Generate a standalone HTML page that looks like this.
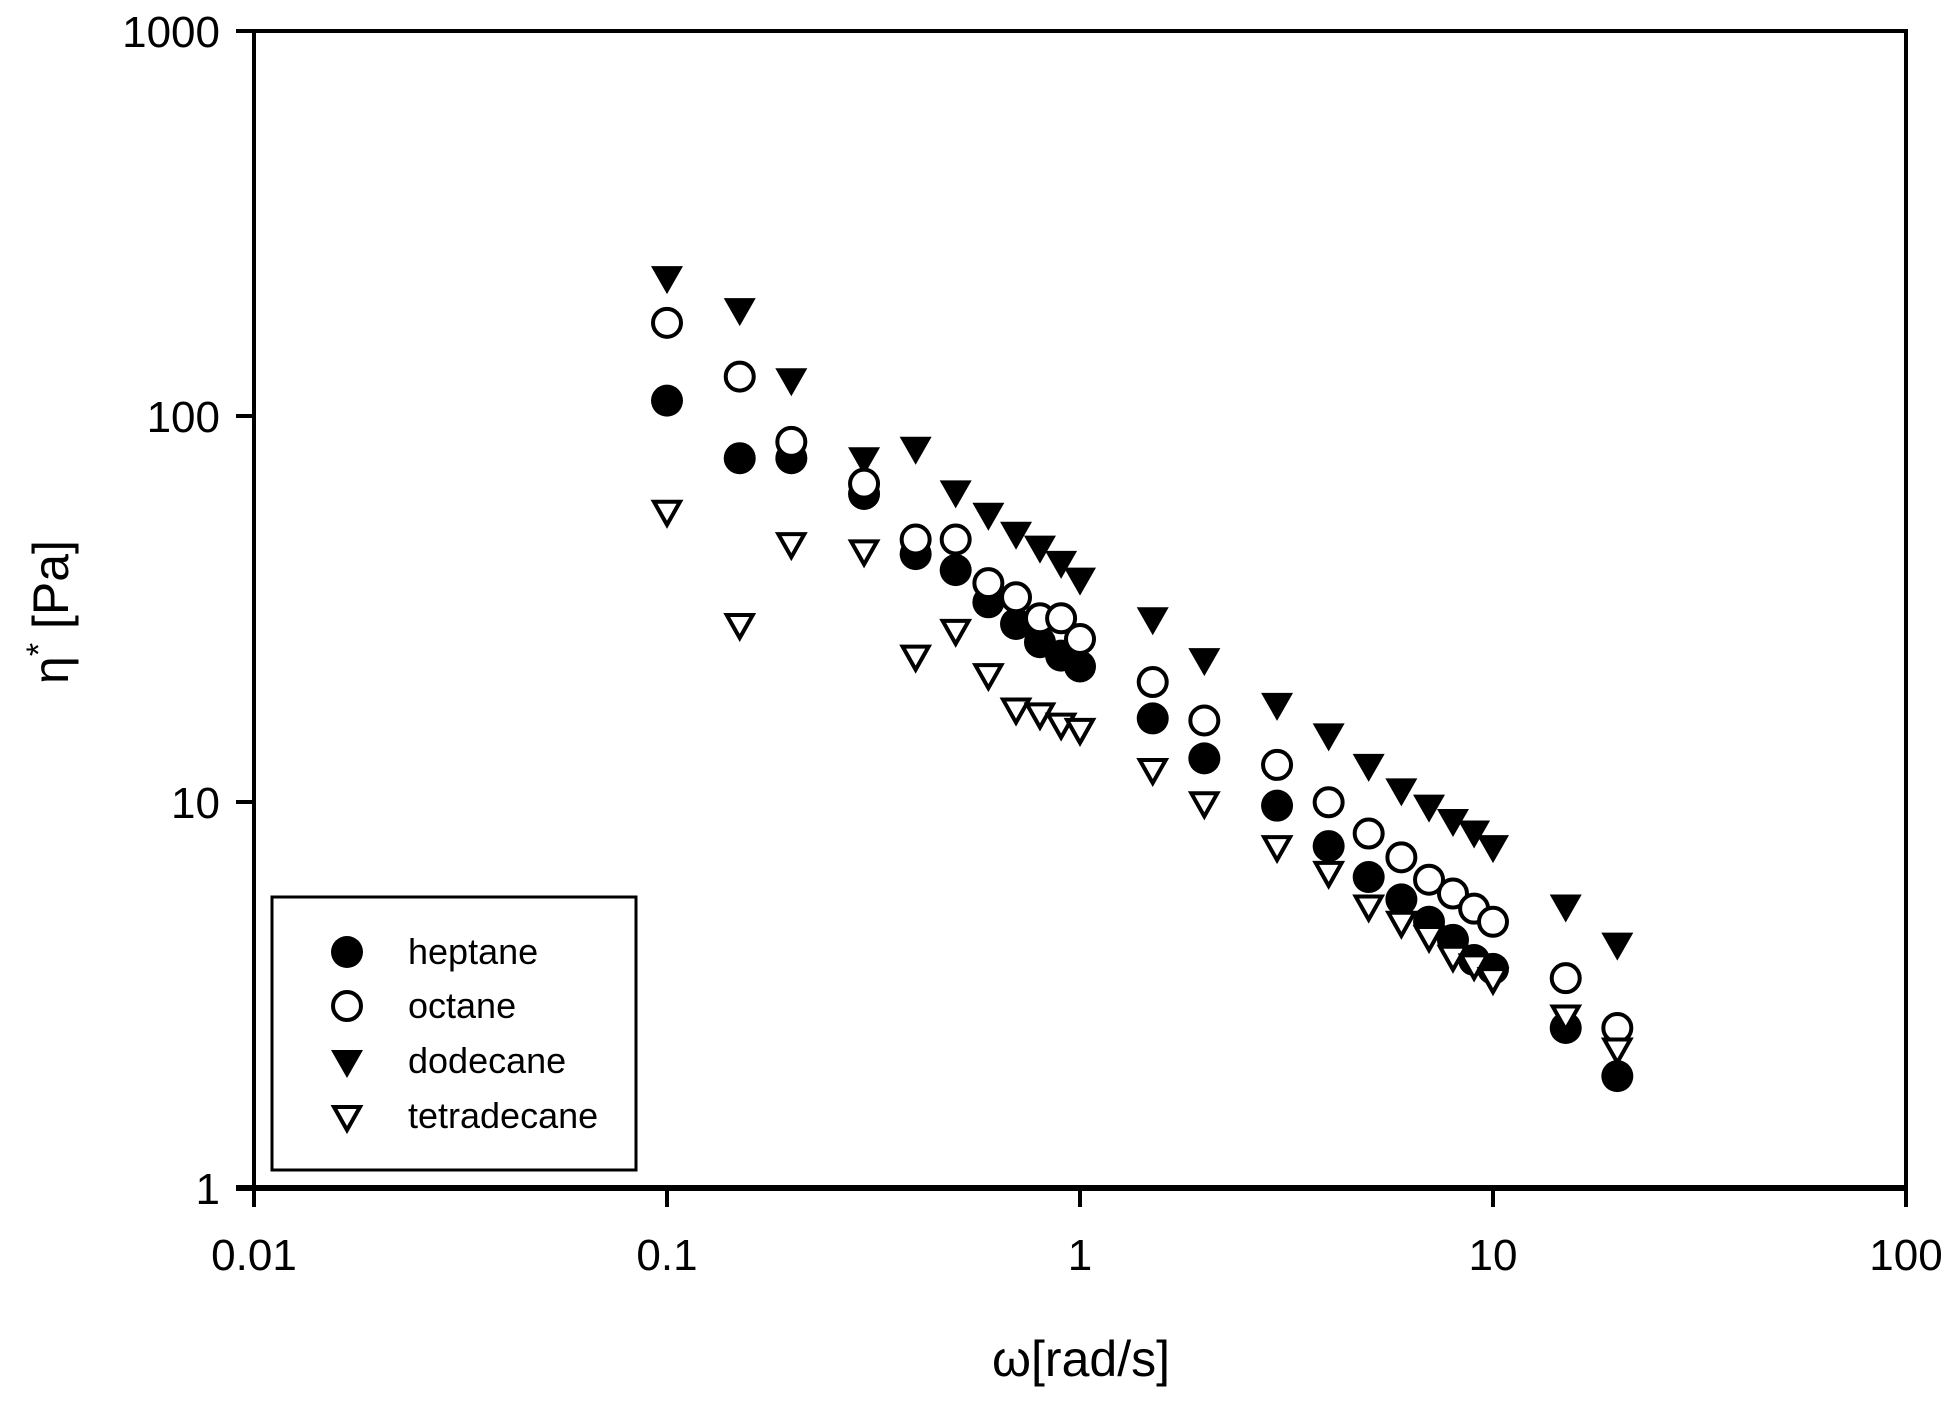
<!DOCTYPE html>
<html><head><meta charset="utf-8"><style>
html,body{margin:0;padding:0;background:#fff;}
svg{display:block;}
text{font-family:"Liberation Sans",Arial,sans-serif;fill:#000;}
</style></head><body>
<svg id="s" width="1957" height="1404" viewBox="0 0 1957 1404" xmlns="http://www.w3.org/2000/svg">
<rect width="1957" height="1404" fill="#fff"/>
<g stroke="#000" stroke-width="4" fill="none">
<line x1="254" y1="31" x2="1906" y2="31"/>
<line x1="254" y1="29" x2="254" y2="1189"/>
<line x1="1906" y1="29" x2="1906" y2="1189"/>
<line x1="236" y1="1188" x2="1906" y2="1188" stroke-width="6"/>
<line x1="236" y1="31" x2="254" y2="31"/>
<line x1="236" y1="416" x2="254" y2="416"/>
<line x1="236" y1="802" x2="254" y2="802"/>
<line x1="254" y1="1188" x2="254" y2="1207"/>
<line x1="667" y1="1188" x2="667" y2="1207"/>
<line x1="1080" y1="1188" x2="1080" y2="1207"/>
<line x1="1493" y1="1188" x2="1493" y2="1207"/>
<line x1="1906" y1="1188" x2="1906" y2="1207"/>
</g>
<g font-size="44" text-anchor="end">
<text x="220" y="47">1000</text>
<text x="220" y="432">100</text>
<text x="220" y="818">10</text>
<text x="220" y="1204">1</text>
</g>
<g font-size="44" text-anchor="middle">
<text x="254" y="1270">0.01</text>
<text x="667" y="1270">0.1</text>
<text x="1080" y="1270">1</text>
<text x="1493" y="1270">10</text>
<text x="1906" y="1270">100</text>
</g>
<text x="1081" y="1376" font-size="50" text-anchor="middle">ω[rad/s]</text>
<text transform="translate(68,612) rotate(-90)" font-size="50" text-anchor="middle">η<tspan dy="-18" font-size="34">*</tspan><tspan dy="18"> [Pa]</tspan></text>
<rect x="272" y="897" width="364" height="273" fill="#fff" stroke="#000" stroke-width="3"/>
<g font-size="36">
<text x="408" y="964">heptane</text>
<text x="408" y="1018">octane</text>
<text x="408" y="1073">dodecane</text>
<text x="408" y="1128">tetradecane</text>
</g>
<g id="pts"></g>
</svg>
<script>
var X0=254,DX=413,Y0=1188,DY=385.7;
function px(x){return X0+DX*(Math.log10(x)+2);}
function py(y){return Y0-DY*Math.log10(y);}
var xs=[0.1,0.15,0.2,0.3,0.4,0.5,0.6,0.7,0.8,0.9,1,1.5,2,3,4,5,6,7,8,9,10,15,20];
var hep=[110,78,78,63,44,40,33,29,26,24,22.5,16.5,13,9.8,7.7,6.4,5.6,4.9,4.4,3.9,3.7,2.6,1.95];
var oct=[175,127,86,67,48,48,37,34,30,30,26.5,20.5,16.3,12.5,10,8.3,7.2,6.3,5.8,5.3,4.9,3.5,2.6];
var dod=[230,190,125,78,83,64,56,50,46,42,38,30,23.5,18,15,12.5,10.8,9.8,9,8.4,7.7,5.4,4.3];
var tet=[57,29,47,45,24,28,21.5,17.5,17,16,15.5,12.2,10,7.7,6.6,5.4,4.9,4.5,4.0,3.8,3.5,2.8,2.3];
var g=document.getElementById('pts'),h='';
function circ(x,y,filled){return filled?'<circle cx="'+x+'" cy="'+y+'" r="16" fill="#000"/>':'<circle cx="'+x+'" cy="'+y+'" r="14" fill="#fff" stroke="#000" stroke-width="4"/>';}
function tri(x,y,filled){var w=16,t=y-11,b=y+17;return filled?'<polygon points="'+(x-w)+','+t+' '+(x+w)+','+t+' '+x+','+b+'" fill="#000"/>':'<polygon points="'+(x-13)+','+(t+2)+' '+(x+13)+','+(t+2)+' '+x+','+(b-3)+'" fill="#fff" stroke="#000" stroke-width="4" stroke-linejoin="miter"/>';}
for(var i=0;i<xs.length;i++){h+=tri(px(xs[i]),py(dod[i]),true);}
for(var i=0;i<xs.length;i++){h+=circ(px(xs[i]),py(hep[i]),true);}
for(var i=0;i<xs.length;i++){h+=circ(px(xs[i]),py(oct[i]),false);}
for(var i=0;i<xs.length;i++){h+=tri(px(xs[i]),py(tet[i]),false);}
h+=circ(347,952,true)+circ(347,1006,false)+tri(347,1061,true)+tri(347,1116,false);
g.innerHTML=h;
</script>
</body></html>
